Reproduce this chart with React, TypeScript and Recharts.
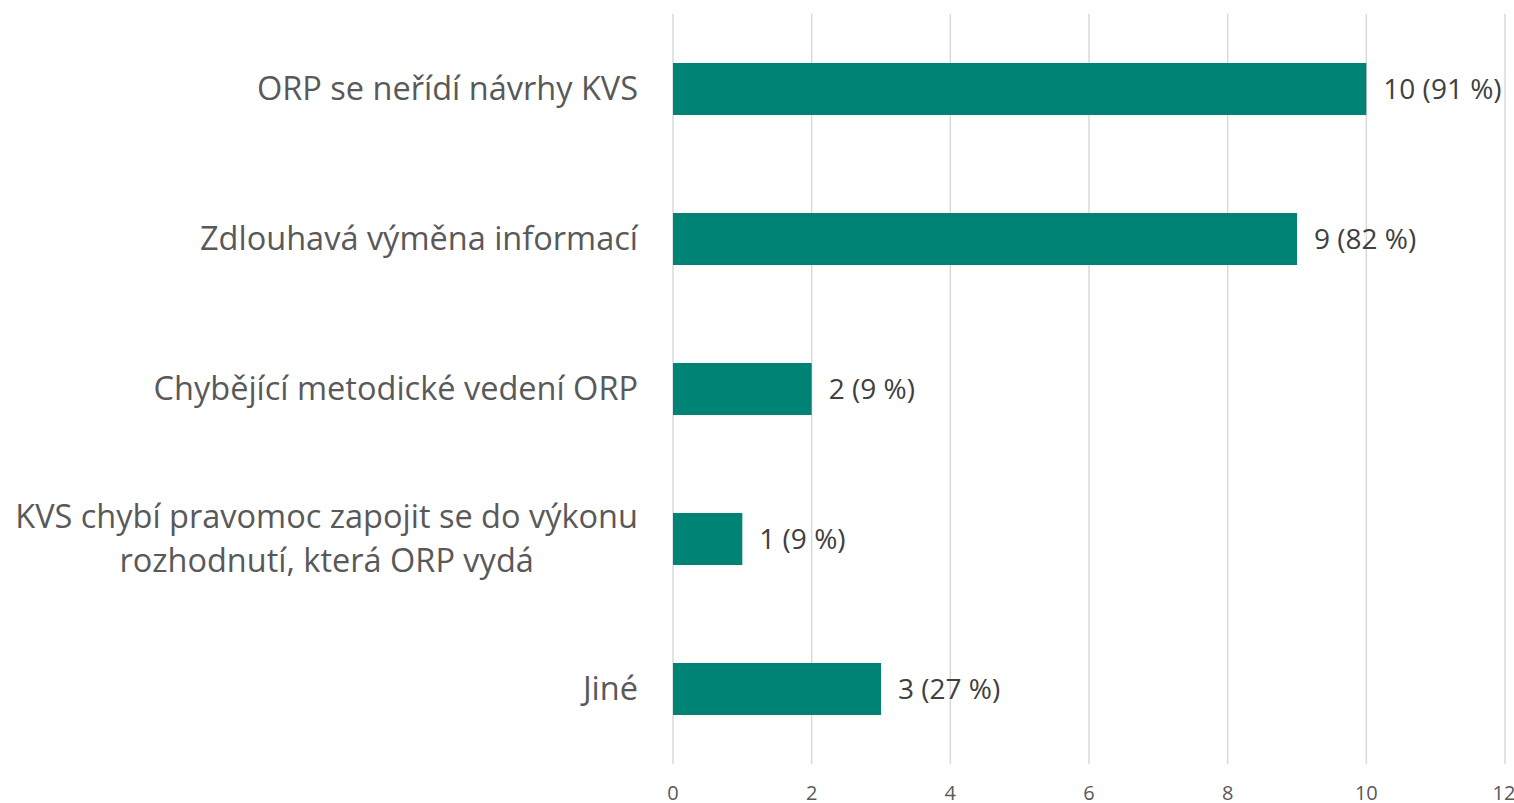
import React from "react";
import { BarChart, Bar, XAxis, YAxis, CartesianGrid, LabelList } from "recharts";

const categories = [
  "ORP se neřídí návrhy KVS",
  "Zdlouhavá výměna informací",
  "Chybějící metodické vedení ORP",
  "KVS chybí pravomoc zapojit se do výkonu\nrozhodnutí, která ORP vydá",
  "Jiné",
];
const counts = [10, 9, 2, 1, 3];
const percents = [91, 82, 9, 9, 27];
const xTicks = [0, 2, 4, 6, 8, 10, 12];

const data = categories.map((name, i) => ({
  name,
  count: counts[i],
  label: `${counts[i]} (${percents[i]} %)`,
}));

const FONT = "'Open Sans', sans-serif";
const CAT_SIZE = 32.5;

function measure(text: string, size: number): number {
  const c = document.createElement("canvas").getContext("2d");
  if (!c) return text.length * size * 0.5;
  c.font = `${size}px 'Open Sans'`;
  return c.measureText(text).width;
}

function CategoryTick({ x, y, payload }: any) {
  const lines: string[] = String(payload.value).split("\n");
  const right = x - 27;
  if (lines.length === 1) {
    return (
      <text x={right} y={y} dy="0.35em" textAnchor="end" fill="#595959" fontSize={CAT_SIZE} fontFamily={FONT}>
        {lines[0]}
      </text>
    );
  }
  const w = Math.max(...lines.map((l) => measure(l, CAT_SIZE)));
  const cx = right - w / 2;
  const lh = 44;
  const start = y - ((lines.length - 1) * lh) / 2;
  return (
    <text textAnchor="middle" fill="#595959" fontSize={CAT_SIZE} fontFamily={FONT}>
      {lines.map((l, i) => (
        <tspan key={i} x={cx} y={start + i * lh} dy="0.35em">
          {l}
        </tspan>
      ))}
    </text>
  );
}

export default function App() {
  return (
    <div style={{ position: "absolute", left: 0, top: 0, background: "#fff" }}>
      <BarChart
        width={1514}
        height={803}
        data={data}
        layout="vertical"
        margin={{ top: 14, right: 9, bottom: 0, left: 0 }}
      >
        <CartesianGrid horizontal={false} stroke="#d9d9d9" strokeWidth={1.5} />
        <XAxis
          type="number"
          domain={[0, 12]}
          ticks={xTicks}
          axisLine={false}
          tickLine={false}
          height={39}
          tick={{ fill: "#595959", fontSize: 20, fontFamily: FONT }}
          tickMargin={16}
        />
        <YAxis
          type="category"
          dataKey="name"
          width={673}
          axisLine={false}
          tickLine={false}
          tick={<CategoryTick />}
        />
        <Bar dataKey="count" fill="#008374" barSize={52} isAnimationActive={false}>
          <LabelList
            dataKey="label"
            position="right"
            offset={17}
            fill="#404040"
            fontSize={28}
            fontFamily={FONT}
          />
        </Bar>
      </BarChart>
    </div>
  );
}
